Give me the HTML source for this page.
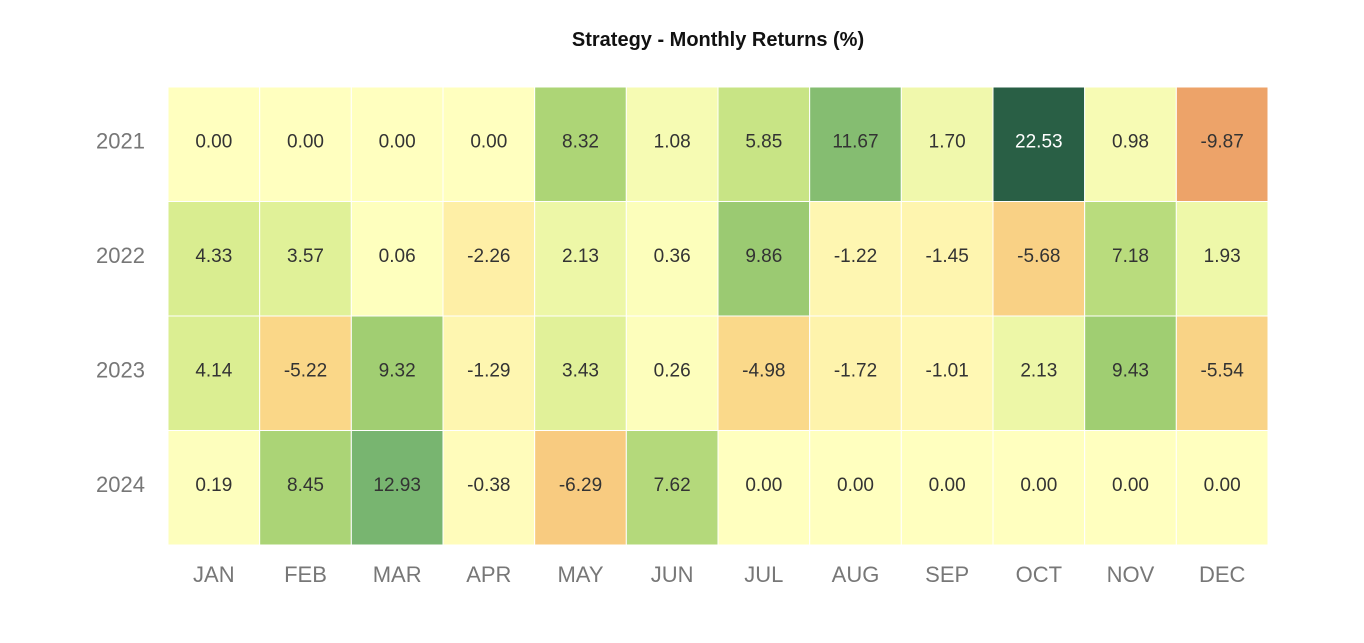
<!DOCTYPE html>
<html><head><meta charset="utf-8"><style>
body{margin:0;background:#fff;font-family:"Liberation Sans",Arial,sans-serif}
</style></head><body>
<svg id="chart" width="1364" height="638" xmlns="http://www.w3.org/2000/svg">
<text x="718" y="46" text-anchor="middle" font-size="20" font-weight="bold" fill="#111">Strategy - Monthly Returns (%)</text>
<g id="cells"></g>
</svg>
<script>
const years=["2021","2022","2023","2024"];
const months=["JAN","FEB","MAR","APR","MAY","JUN","JUL","AUG","SEP","OCT","NOV","DEC"];
const r2021=[0.00,0.00,0.00,0.00,8.32,1.08,5.85,11.67,1.70,22.53,0.98,-9.87];
const r2022=[4.33,3.57,0.06,-2.26,2.13,0.36,9.86,-1.22,-1.45,-5.68,7.18,1.93];
const r2023=[4.14,-5.22,9.32,-1.29,3.43,0.26,-4.98,-1.72,-1.01,2.13,9.43,-5.54];
const r2024=[0.19,8.45,12.93,-0.38,-6.29,7.62,0.00,0.00,0.00,0.00,0.00,0.00];
const rows=[r2021,r2022,r2023,r2024];
const stops=["#a50026","#d73027","#f46d43","#fdae61","#fee08b","#ffffbf","#d9ef8b","#a6d96a","#66bd63","#1a9850","#006837"];
function hex(h){return [1,3,5].map(i=>parseInt(h.substr(i,2),16));}
function desat(c,fac){const r=c[0]/255,g=c[1]/255,b=c[2]/255;const mx=Math.max(r,g,b),mn=Math.min(r,g,b);let l=(mx+mn)/2,s=0,h=0;const d=mx-mn;
if(d>0){s=l>0.5?d/(2-mx-mn):d/(mx+mn);if(mx===r)h=((g-b)/d+(g<b?6:0));else if(mx===g)h=(b-r)/d+2;else h=(r-g)/d+4;h/=6;}
s*=fac;if(l<0.3)l=l*0.75+0.1125;
const q=l<0.5?l*(1+s):l+s-l*s,p=2*l-q;const f=t=>{if(t<0)t+=1;if(t>1)t-=1;if(t<1/6)return p+(q-p)*6*t;if(t<1/2)return q;if(t<2/3)return p+(q-p)*(2/3-t)*6;return p;};
return "rgb("+[f(h+1/3),f(h),f(h-1/3)].map(v=>Math.round(v*255)).join(",")+")";}
function cmap(t){t=Math.max(0,Math.min(1,t));const p=t*10,i=Math.min(9,Math.floor(p)),f=p-i;
const a=hex(stops[i]),b=hex(stops[i+1]);const dd=Math.abs(t-0.5)*2;return desat(a.map((v,k)=>v+(b[k]-v)*f),1-0.6*Math.pow(dd,1.5));}
const all=rows.flat();const m=Math.max(...all.map(Math.abs));
const x0=168,x1=1268,y0=87,y1=545;
const cw=(x1-x0)/months.length,ch=(y1-y0)/years.length;
const xs=i=>x0+i*cw, ys=j=>y0+j*ch;
const g=document.getElementById("cells");const NS="http://www.w3.org/2000/svg";
rows.forEach((row,j)=>{row.forEach((v,i)=>{
const t=0.5+v/(2*m);
const r=document.createElementNS(NS,"rect");


r.setAttribute("x",xs(i));r.setAttribute("y",ys(j));r.setAttribute("width",cw);r.setAttribute("height",ch);
r.setAttribute("fill",cmap(t));r.setAttribute("stroke","#fff");r.setAttribute("stroke-width","1");g.appendChild(r);
const tx=document.createElementNS(NS,"text");


tx.setAttribute("x",xs(i)+cw/2);tx.setAttribute("y",ys(j)+ch/2+3);tx.setAttribute("text-anchor","middle");
tx.setAttribute("font-size","19");tx.setAttribute("fill",(t>0.85||t<0.15)?"#fff":"#333");
tx.textContent=v.toFixed(2);g.appendChild(tx);});});
years.forEach((y,j)=>{const t=document.createElementNS(NS,"text");


t.setAttribute("x",145);t.setAttribute("y",ys(j)+ch/2+4);t.setAttribute("text-anchor","end");t.setAttribute("font-size","22");t.setAttribute("fill","#777");t.textContent=y;g.appendChild(t);});
months.forEach((mo,i)=>{const t=document.createElementNS(NS,"text");


t.setAttribute("x",xs(i)+cw/2);t.setAttribute("y",582);t.setAttribute("text-anchor","middle");t.setAttribute("font-size","22");t.setAttribute("fill","#777");t.textContent=mo;g.appendChild(t);});
</script>
</body></html>
